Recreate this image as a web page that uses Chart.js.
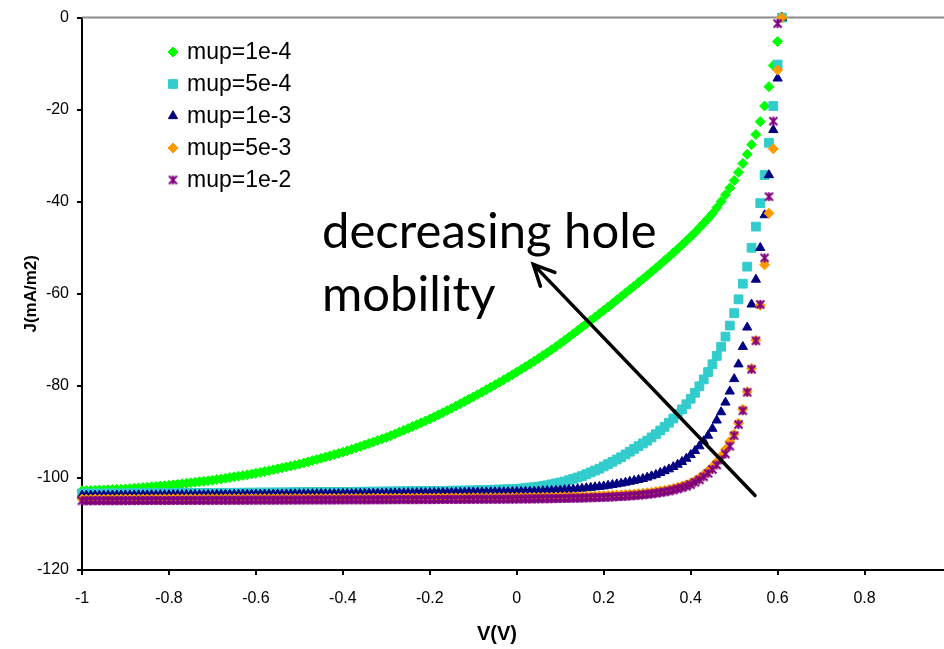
<!DOCTYPE html>
<html>
<head>
<meta charset="utf-8">
<script src="https://cdn.jsdelivr.net/npm/chart.js@4.4.1/dist/chart.umd.min.js"></script>
<style>
  html, body { margin: 0; padding: 0; background: #fff; overflow: hidden; }
  #wrap { width: 970px; height: 649px; }
</style>
</head>
<body>
<div id="wrap"><canvas id="jv" width="970" height="649"></canvas></div>
<script>
// bias voltage (V)
const voltage = [
  -1.00,-0.99,-0.98,-0.97,-0.96,-0.95,-0.94,-0.93,-0.92,-0.91,
  -0.90,-0.89,-0.88,-0.87,-0.86,-0.85,-0.84,-0.83,-0.82,-0.81,
  -0.80,-0.79,-0.78,-0.77,-0.76,-0.75,-0.74,-0.73,-0.72,-0.71,
  -0.70,-0.69,-0.68,-0.67,-0.66,-0.65,-0.64,-0.63,-0.62,-0.61,
  -0.60,-0.59,-0.58,-0.57,-0.56,-0.55,-0.54,-0.53,-0.52,-0.51,
  -0.50,-0.49,-0.48,-0.47,-0.46,-0.45,-0.44,-0.43,-0.42,-0.41,
  -0.40,-0.39,-0.38,-0.37,-0.36,-0.35,-0.34,-0.33,-0.32,-0.31,
  -0.30,-0.29,-0.28,-0.27,-0.26,-0.25,-0.24,-0.23,-0.22,-0.21,
  -0.20,-0.19,-0.18,-0.17,-0.16,-0.15,-0.14,-0.13,-0.12,-0.11,
  -0.10,-0.09,-0.08,-0.07,-0.06,-0.05,-0.04,-0.03,-0.02,-0.01,
  0.00,0.01,0.02,0.03,0.04,0.05,0.06,0.07,0.08,0.09,
  0.10,0.11,0.12,0.13,0.14,0.15,0.16,0.17,0.18,0.19,
  0.20,0.21,0.22,0.23,0.24,0.25,0.26,0.27,0.28,0.29,
  0.30,0.31,0.32,0.33,0.34,0.35,0.36,0.37,0.38,0.39,
  0.40,0.41,0.42,0.43,0.44,0.45,0.46,0.47,0.48,0.49,
  0.50,0.51,0.52,0.53,0.54,0.55,0.56,0.57,0.58,0.59,
  0.60,0.61
];

// current density (mA/m2) for each hole mobility
const mup1e4 = [
  -102.80,-102.76,-102.72,-102.68,-102.64,-102.60,-102.56,-102.52,-102.48,-102.44,
  -102.40,-102.33,-102.25,-102.17,-102.09,-102.01,-101.93,-101.85,-101.77,-101.69,
  -101.60,-101.50,-101.39,-101.28,-101.17,-101.06,-100.95,-100.84,-100.73,-100.62,
  -100.50,-100.36,-100.22,-100.07,-99.92,-99.77,-99.62,-99.47,-99.31,-99.16,
  -99.00,-98.81,-98.62,-98.42,-98.22,-98.02,-97.82,-97.62,-97.42,-97.21,
  -97.00,-96.76,-96.51,-96.25,-95.99,-95.73,-95.47,-95.21,-94.94,-94.67,
  -94.40,-94.10,-93.79,-93.48,-93.16,-92.84,-92.52,-92.20,-91.87,-91.54,
  -91.20,-90.82,-90.43,-90.04,-89.64,-89.24,-88.84,-88.44,-88.03,-87.62,
  -87.20,-86.75,-86.29,-85.82,-85.35,-84.87,-84.39,-83.90,-83.40,-82.90,
  -82.40,-81.89,-81.37,-80.84,-80.31,-79.78,-79.24,-78.69,-78.14,-77.57,
  -77.00,-76.42,-75.84,-75.25,-74.65,-74.04,-73.42,-72.80,-72.16,-71.49,
  -70.80,-70.11,-69.41,-68.70,-67.98,-67.26,-66.54,-65.81,-65.08,-64.34,
  -63.60,-62.86,-62.11,-61.36,-60.60,-59.84,-59.08,-58.32,-57.55,-56.78,
  -56.00,-55.21,-54.41,-53.60,-52.78,-51.95,-51.11,-50.26,-49.40,-48.51,
  -47.60,-46.66,-45.69,-44.69,-43.66,-42.60,-41.30,-39.94,-38.51,-37.01,
  -35.40,-33.60,-31.70,-29.70,-27.60,-25.40,-22.60,-19.20,-15.00,-10.40,
  -5.20,0.00
];

const mup5e4 = [
  -103.40,-103.40,-103.39,-103.39,-103.38,-103.38,-103.37,-103.37,-103.36,-103.36,
  -103.35,-103.35,-103.34,-103.34,-103.33,-103.33,-103.32,-103.32,-103.31,-103.31,
  -103.30,-103.30,-103.29,-103.29,-103.28,-103.28,-103.27,-103.27,-103.26,-103.26,
  -103.25,-103.25,-103.24,-103.24,-103.23,-103.23,-103.22,-103.22,-103.21,-103.21,
  -103.20,-103.19,-103.18,-103.18,-103.17,-103.16,-103.15,-103.14,-103.13,-103.12,
  -103.10,-103.10,-103.09,-103.09,-103.08,-103.08,-103.07,-103.07,-103.06,-103.06,
  -103.05,-103.04,-103.03,-103.02,-103.01,-103.00,-102.99,-102.98,-102.97,-102.96,
  -102.95,-102.94,-102.93,-102.92,-102.91,-102.90,-102.89,-102.88,-102.87,-102.86,
  -102.85,-102.84,-102.82,-102.81,-102.79,-102.78,-102.76,-102.75,-102.73,-102.72,
  -102.70,-102.67,-102.64,-102.61,-102.58,-102.55,-102.52,-102.49,-102.46,-102.43,
  -102.40,-102.30,-102.20,-102.10,-102.00,-101.90,-101.75,-101.60,-101.40,-101.20,
  -101.00,-100.80,-100.50,-100.20,-99.90,-99.60,-99.20,-98.80,-98.40,-98.00,
  -97.50,-97.00,-96.50,-96.00,-95.50,-94.90,-94.30,-93.70,-93.10,-92.50,
  -91.90,-91.20,-90.50,-89.70,-88.90,-88.00,-87.10,-86.10,-85.10,-84.00,
  -82.80,-81.50,-80.10,-78.60,-77.00,-75.30,-73.50,-71.50,-69.30,-66.90,
  -64.20,-61.20,-57.80,-54.10,-50.00,-45.40,-40.30,-34.20,-27.20,-19.20,
  -10.20,0.00
];

const mup1e3 = [
  -103.80,-103.80,-103.79,-103.79,-103.78,-103.78,-103.77,-103.77,-103.76,-103.76,
  -103.75,-103.75,-103.74,-103.74,-103.73,-103.73,-103.72,-103.72,-103.71,-103.71,
  -103.70,-103.69,-103.69,-103.68,-103.68,-103.67,-103.66,-103.66,-103.65,-103.65,
  -103.64,-103.63,-103.63,-103.62,-103.61,-103.61,-103.60,-103.59,-103.59,-103.58,
  -103.57,-103.57,-103.56,-103.55,-103.55,-103.54,-103.53,-103.53,-103.52,-103.51,
  -103.50,-103.49,-103.49,-103.48,-103.47,-103.46,-103.46,-103.45,-103.44,-103.43,
  -103.42,-103.41,-103.41,-103.40,-103.39,-103.38,-103.37,-103.36,-103.35,-103.34,
  -103.33,-103.32,-103.31,-103.30,-103.29,-103.28,-103.27,-103.26,-103.25,-103.24,
  -103.23,-103.22,-103.21,-103.20,-103.19,-103.18,-103.17,-103.16,-103.15,-103.14,
  -103.12,-103.11,-103.10,-103.09,-103.08,-103.07,-103.06,-103.05,-103.04,-103.03,
  -103.02,-103.00,-102.98,-102.96,-102.93,-102.90,-102.86,-102.82,-102.78,-102.73,
  -102.68,-102.62,-102.55,-102.48,-102.40,-102.30,-102.20,-102.10,-102.00,-101.90,
  -101.80,-101.65,-101.50,-101.35,-101.20,-101.00,-100.80,-100.60,-100.40,-100.20,
  -99.90,-99.60,-99.30,-98.90,-98.50,-98.10,-97.60,-97.10,-96.50,-95.80,
  -95.00,-94.10,-93.10,-92.00,-90.80,-89.30,-87.50,-85.70,-83.60,-81.20,
  -78.50,-75.30,-71.50,-67.30,-62.30,-56.90,-50.00,-42.90,-34.20,-24.40,
  -13.20,0.00
];

const mup5e3 = [
  -104.60,-104.60,-104.60,-104.59,-104.59,-104.59,-104.58,-104.58,-104.58,-104.57,
  -104.57,-104.57,-104.57,-104.56,-104.56,-104.56,-104.55,-104.55,-104.55,-104.54,
  -104.54,-104.54,-104.53,-104.53,-104.53,-104.52,-104.52,-104.52,-104.51,-104.51,
  -104.51,-104.50,-104.50,-104.50,-104.49,-104.49,-104.49,-104.48,-104.48,-104.48,
  -104.47,-104.47,-104.47,-104.46,-104.46,-104.46,-104.45,-104.45,-104.45,-104.44,
  -104.44,-104.44,-104.43,-104.43,-104.43,-104.42,-104.42,-104.42,-104.41,-104.41,
  -104.41,-104.40,-104.40,-104.40,-104.39,-104.39,-104.39,-104.38,-104.38,-104.38,
  -104.37,-104.37,-104.37,-104.36,-104.36,-104.36,-104.35,-104.35,-104.35,-104.34,
  -104.34,-104.34,-104.33,-104.33,-104.32,-104.32,-104.31,-104.31,-104.30,-104.30,
  -104.29,-104.29,-104.28,-104.28,-104.27,-104.27,-104.26,-104.26,-104.25,-104.24,
  -104.23,-104.22,-104.21,-104.20,-104.19,-104.18,-104.17,-104.16,-104.15,-104.13,
  -104.11,-104.09,-104.07,-104.05,-104.03,-104.01,-103.98,-103.95,-103.92,-103.89,
  -103.85,-103.81,-103.77,-103.72,-103.67,-103.61,-103.55,-103.48,-103.40,-103.31,
  -103.21,-103.10,-102.97,-102.83,-102.67,-102.49,-102.28,-102.04,-101.77,-101.46,
  -101.10,-100.60,-100.00,-99.30,-98.50,-97.60,-96.50,-95.30,-93.80,-92.10,
  -90.50,-88.10,-85.10,-81.30,-76.20,-70.10,-62.50,-53.70,-42.50,-28.50,
  -11.40,0.00
];

const mup1e2 = [
  -104.95,-104.95,-104.95,-104.94,-104.94,-104.94,-104.93,-104.93,-104.93,-104.92,
  -104.92,-104.92,-104.92,-104.91,-104.91,-104.91,-104.90,-104.90,-104.90,-104.89,
  -104.89,-104.89,-104.88,-104.88,-104.88,-104.87,-104.87,-104.87,-104.86,-104.86,
  -104.86,-104.85,-104.85,-104.85,-104.84,-104.84,-104.84,-104.83,-104.83,-104.83,
  -104.82,-104.82,-104.82,-104.81,-104.81,-104.81,-104.80,-104.80,-104.80,-104.79,
  -104.79,-104.79,-104.78,-104.78,-104.78,-104.77,-104.77,-104.77,-104.76,-104.76,
  -104.76,-104.75,-104.75,-104.75,-104.74,-104.74,-104.74,-104.73,-104.73,-104.73,
  -104.72,-104.72,-104.72,-104.71,-104.71,-104.71,-104.70,-104.70,-104.70,-104.69,
  -104.69,-104.69,-104.68,-104.68,-104.67,-104.67,-104.66,-104.66,-104.65,-104.65,
  -104.64,-104.64,-104.63,-104.63,-104.62,-104.62,-104.61,-104.61,-104.60,-104.59,
  -104.58,-104.57,-104.56,-104.55,-104.54,-104.53,-104.52,-104.51,-104.50,-104.48,
  -104.46,-104.44,-104.42,-104.40,-104.38,-104.36,-104.33,-104.30,-104.27,-104.24,
  -104.20,-104.16,-104.12,-104.07,-104.02,-103.96,-103.90,-103.83,-103.75,-103.66,
  -103.56,-103.45,-103.32,-103.18,-103.02,-102.84,-102.63,-102.39,-102.12,-101.81,
  -101.45,-100.95,-100.40,-99.75,-99.00,-98.15,-97.20,-96.10,-94.80,-93.10,
  -90.80,-88.40,-85.40,-81.40,-76.40,-70.20,-62.30,-52.20,-38.90,-22.50,
  -1.30,null
];

const seriesNames = ["mup=1e-4", "mup=5e-4", "mup=1e-3", "mup=5e-3", "mup=1e-2"];
const xTicks = [-1, -0.8, -0.6, -0.4, -0.2, 0, 0.2, 0.4, 0.6, 0.8, 1];
const yTicks = [0, -20, -40, -60, -80, -100, -120];

// excel-style star marker: an X with a vertical bar
function makeStar(color) {
  const c = document.createElement("canvas");
  c.width = 11;
  c.height = 11;
  const g = c.getContext("2d");
  g.strokeStyle = color;
  g.lineWidth = 2;
  g.beginPath();
  g.moveTo(1.5, 1.5); g.lineTo(9.5, 9.5);
  g.moveTo(9.5, 1.5); g.lineTo(1.5, 9.5);
  g.moveTo(5.5, 1); g.lineTo(5.5, 10);
  g.stroke();
  return c;
}

function toPoints(ys) {
  return voltage.map((v, i) => ({ x: v, y: ys[i] }));
}

const styles = [
  { color: "#00ff00", pointStyle: "rectRot", radius: 5 },
  { color: "#33cccc", pointStyle: "rect", radius: 6.2 },
  { color: "#000080", pointStyle: "triangle", radius: 5.3 },
  { color: "#ff9900", pointStyle: "rectRot", radius: 5 },
  { color: "#800080", pointStyle: makeStar("#800080"), radius: 5 },
];

const allSeries = [mup1e4, mup5e4, mup1e3, mup5e3, mup1e2];

const datasets = allSeries.map((ys, i) => ({
  label: seriesNames[i],
  data: toPoints(ys),
  pointStyle: styles[i].pointStyle,
  pointRadius: styles[i].radius,
  backgroundColor: styles[i].color,
  borderColor: styles[i].color,
  borderWidth: 1,
  showLine: false,
  clip: false,
  order: allSeries.length - i,
}));

// gray top frame line, legend, arrow annotation and axis titles
const extras = {
  id: "extras",
  beforeDatasetsDraw(chart) {
    const { ctx, chartArea } = chart;
    ctx.save();
    ctx.strokeStyle = "#8c8c8c";
    ctx.lineWidth = 2;
    ctx.beginPath();
    ctx.moveTo(chartArea.left, chartArea.top);
    ctx.lineTo(chartArea.right, chartArea.top);
    ctx.stroke();
    ctx.restore();
  },
  afterDatasetsDraw(chart) {
    const { ctx } = chart;
    const xs = chart.scales.x;
    const ys = chart.scales.y;
    ctx.save();

    // legend
    ctx.font = "23px 'Liberation Sans', Arial, sans-serif";
    ctx.textBaseline = "middle";
    ctx.textAlign = "left";
    chart.data.datasets.forEach((ds, i) => {
      const y = 52 + i * 32;
      ctx.fillStyle = ds.backgroundColor;
      ctx.strokeStyle = ds.borderColor;
      ctx.lineWidth = 1;
      Chart.helpers.drawPoint(ctx, {
        pointStyle: ds.pointStyle,
        radius: ds.pointRadius,
        borderWidth: 1,
        rotation: 0,
      }, 173, y);
      ctx.fillStyle = "#000";
      ctx.fillText(ds.label, 187, y + 1);
    });

    // arrow
    const x0 = xs.getPixelForValue(0.548), y0 = ys.getPixelForValue(-103.8);
    const x1 = xs.getPixelForValue(0.038), y1 = ys.getPixelForValue(-53.6);
    const ang = Math.atan2(y0 - y1, x0 - x1);
    const head = 23, spread = 0.45;
    ctx.strokeStyle = "#000";
    ctx.lineWidth = 3.5;
    ctx.lineCap = "round";
    ctx.beginPath();
    ctx.moveTo(x0, y0);
    ctx.lineTo(x1, y1);
    ctx.moveTo(x1 + head * Math.cos(ang - spread), y1 + head * Math.sin(ang - spread));
    ctx.lineTo(x1, y1);
    ctx.lineTo(x1 + head * Math.cos(ang + spread), y1 + head * Math.sin(ang + spread));
    ctx.stroke();

    // annotation text
    ctx.fillStyle = "#000";
    ctx.font = "49px Lato, 'Open Sans', sans-serif";
    ctx.textBaseline = "alphabetic";
    const tx = xs.getPixelForValue(-0.448);
    ctx.fillText("decreasing hole", tx, ys.getPixelForValue(-50.0));
    ctx.fillText("mobility", tx, ys.getPixelForValue(-63.7));

    // axis titles
    ctx.font = "bold 17px 'Liberation Sans', Arial, sans-serif";
    ctx.textAlign = "center";
    ctx.textBaseline = "middle";
    ctx.translate(31, (chart.chartArea.top + chart.chartArea.bottom) / 2);
    ctx.rotate(-Math.PI / 2);
    ctx.fillText("J(mA/m2)", 0, 0);
    ctx.setTransform(1, 0, 0, 1, 0, 0);
    ctx.font = "bold 20px 'Liberation Sans', Arial, sans-serif";
    ctx.fillText("V(V)", 497, 634);
    ctx.restore();
  },
};

Chart.defaults.font.family = "'Liberation Sans', Arial, sans-serif";
Chart.defaults.color = "#000";

new Chart(document.getElementById("jv"), {
  type: "scatter",
  data: { datasets },
  options: {
    responsive: false,
    animation: false,
    events: [],
    layout: { padding: { top: 15, right: 0, left: 0, bottom: 0 } },
    plugins: { legend: { display: false }, tooltip: { enabled: false } },
    scales: {
      x: {
        type: "linear",
        min: -1,
        max: 1,
        afterFit: (s) => { s.height = 79; },
        afterBuildTicks: (s) => { s.ticks = xTicks.map((v) => ({ value: v })); },
        ticks: {
          font: { size: 16 },
          padding: 14,
          maxRotation: 0,
          callback: (v) => String(Math.round(v * 10) / 10),
        },
        grid: { drawOnChartArea: false, drawTicks: true, tickLength: 5, lineWidth: 2, color: "#000" },
        border: { display: true, color: "#000", width: 2 },
      },
      y: {
        type: "linear",
        min: -120,
        max: 0,
        afterFit: (s) => { s.width = 82; },
        afterBuildTicks: (s) => { s.ticks = yTicks.map((v) => ({ value: v })); },
        ticks: { font: { size: 16 }, padding: 8 },
        grid: { drawOnChartArea: false, drawTicks: true, tickLength: 5, lineWidth: 2, color: "#000" },
        border: { display: true, color: "#000", width: 2 },
      },
    },
  },
  plugins: [extras],
});
</script>
</body>
</html>
